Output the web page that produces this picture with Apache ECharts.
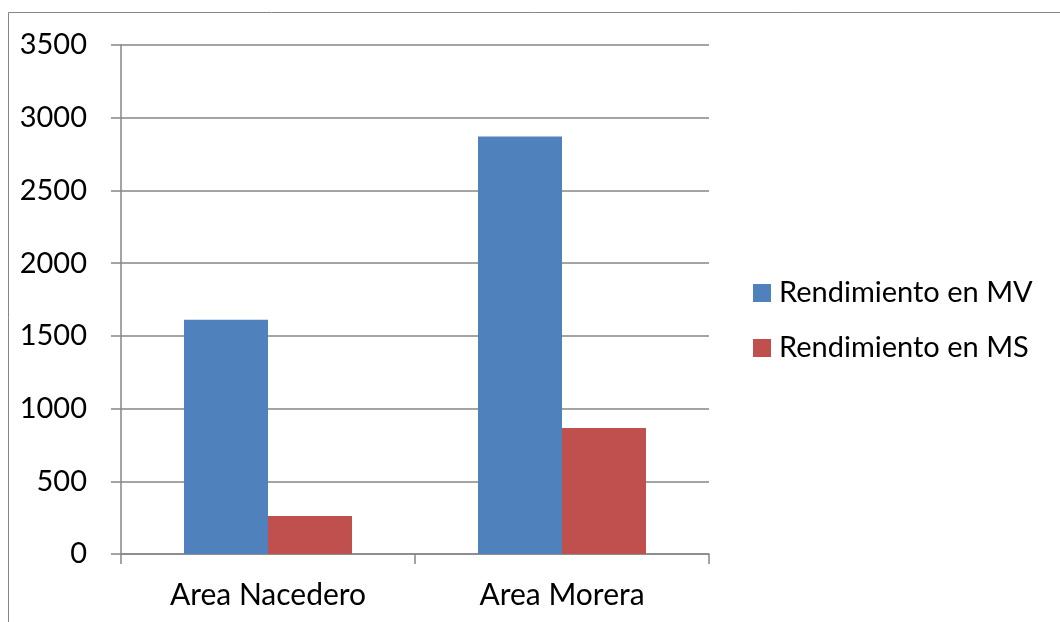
<!DOCTYPE html>
<html>
<head>
<meta charset="utf-8">
<script src="https://cdn.jsdelivr.net/npm/echarts@6/dist/echarts.min.js"></script>
<style>
html,body{margin:0;padding:0;background:#fff;}
#chart{width:1060px;height:622px;}
</style>
</head>
<body>
<div id="chart"></div>
<script>
var categories = ['Area Nacedero', 'Area Morera'];
var seriesNames = ['Rendimiento en MV', 'Rendimiento en MS'];
var valuesMV = [1610, 2870];
var valuesMS = [262, 866];

var FONT = 'Lato';
var AXIS = '#868686';

var chart = echarts.init(document.getElementById('chart'), null, {renderer: 'canvas'});
chart.setOption({
  animation: false,
  backgroundColor: '#fff',
  textStyle: {fontFamily: FONT},
  graphic: [{
    type: 'rect',
    shape: {x: 8.5, y: 12.5, width: 1200, height: 800},
    style: {fill: 'none', stroke: AXIS, lineWidth: 1},
    silent: true
  }],
  grid: {left: 121, right: 351, top: 45, bottom: 68, containLabel: false},
  legend: {
    orient: 'vertical',
    left: 753,
    top: 278,
    padding: 0,
    itemWidth: 18,
    itemHeight: 18,
    itemGap: 25,
    icon: 'rect',
    textStyle: {fontFamily: FONT, fontSize: 29, color: '#000', lineHeight: 30, padding: [0, 0, 0, 3]},
    data: seriesNames
  },
  xAxis: {
    type: 'category',
    data: categories,
    axisLine: {lineStyle: {color: AXIS, width: 1.5}},
    axisTick: {show: true, length: 10, lineStyle: {color: AXIS, width: 1.5}},
    axisLabel: {fontFamily: FONT, fontSize: 30, color: '#000', margin: 26}
  },
  yAxis: {
    type: 'value',
    min: 0,
    max: 3500,
    interval: 500,
    axisLine: {show: true, lineStyle: {color: AXIS, width: 1.5}},
    axisTick: {show: true, length: 10, lineStyle: {color: AXIS, width: 1.5}},
    splitLine: {show: true, lineStyle: {color: AXIS, width: 1.5}},
    axisLabel: {fontFamily: FONT, fontSize: 29, color: '#000', margin: 34, formatter: function (v) { return String(v); }}
  },
  series: [
    {name: seriesNames[0], type: 'bar', data: valuesMV, barGap: '0%', barCategoryGap: '42.86%', itemStyle: {color: '#4F81BD'}},
    {name: seriesNames[1], type: 'bar', data: valuesMS, barGap: '0%', barCategoryGap: '42.86%', itemStyle: {color: '#C0504D'}}
  ]
});
</script>
</body>
</html>
